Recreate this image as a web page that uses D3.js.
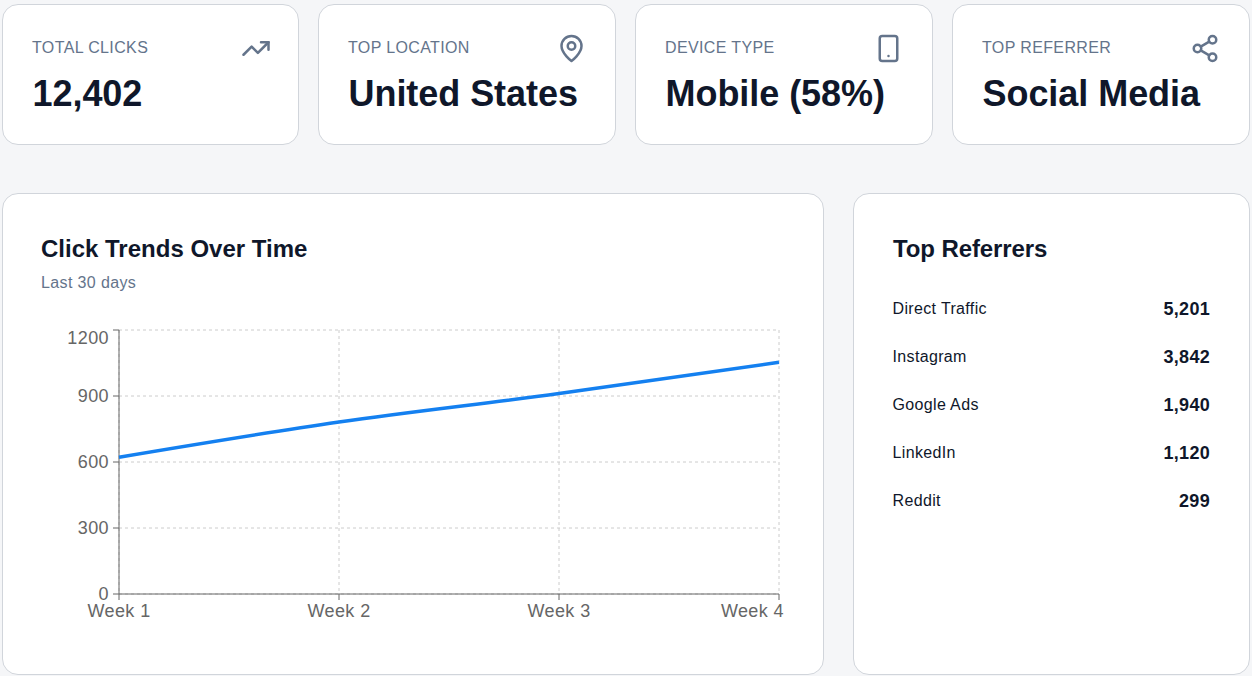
<!DOCTYPE html>
<html>
<head>
<meta charset="utf-8">
<script src="https://cdn.jsdelivr.net/npm/d3@7"></script>
<style>
  html, body { margin: 0; padding: 0; background: #f5f6f8; overflow: hidden; }
  body { width: 1252px; height: 676px; position: relative; font-family: "Liberation Sans", Arial, sans-serif; }
  .card { position: absolute; box-sizing: border-box; background: #fff; border: 1px solid #d1d5db; border-radius: 16px; }
  .txt { position: absolute; white-space: nowrap; line-height: 20px; }
  .label { font-size: 16px; color: #64748b; letter-spacing: 0.37px; }
  .value { font-size: 36px; line-height: 40px; font-weight: 700; color: #0f172a; letter-spacing: -0.05px; }
  .title { font-size: 24px; line-height: 28px; font-weight: 700; color: #0f172a; }
  .sub { font-size: 16px; color: #64748b; letter-spacing: 0.37px; }
  .ref { font-size: 16px; color: #0f172a; letter-spacing: 0.35px; }
  .count { font-size: 18px; font-weight: 700; color: #0f172a; text-align: right; letter-spacing: 0.3px; }
  svg { position: absolute; left: 0; top: 0; }
  .icon { fill: none; stroke: #64748b; stroke-width: 2; stroke-linecap: round; stroke-linejoin: round; }
</style>
</head>
<body>
<script>
// top cards
const cardLabels = ['TOTAL CLICKS', 'TOP LOCATION', 'DEVICE TYPE', 'TOP REFERRER'];
const cardValues = ['12,402', 'United States', 'Mobile (58%)', 'Social Media'];
const cardLeft = [2, 318, 635, 952];
const cardWidth = [297, 298, 298, 298];
const iconLeft = [241, 556.5, 873.5, 1190];

// chart
const weeks = ['Week 1', 'Week 2', 'Week 3', 'Week 4'];
const clicks = [622, 782, 911, 1053];
const yTicks = [0, 300, 600, 900, 1200];

// referrers list
const referrers = ['Direct Traffic', 'Instagram', 'Google Ads', 'LinkedIn', 'Reddit'];
const referrerClicks = ['5,201', '3,842', '1,940', '1,120', '299'];

const body = d3.select('body');

function addCard(x, y, w, h) {
    return body.append('div').attr('class', 'card')
        .style('left', x + 'px').style('top', y + 'px')
        .style('width', w + 'px').style('height', h + 'px');
}

function addText(cls, text, x, y) {
    return body.append('div').attr('class', 'txt ' + cls).text(text)
        .style('left', x + 'px').style('top', y + 'px');
}

cardLabels.forEach((label, i) => {
    addCard(cardLeft[i], 4, cardWidth[i], 141);
    addText('label', label, cardLeft[i] + 30, 38);
    addText('value', cardValues[i], cardLeft[i] + 30.5, 74);
});

addCard(2, 193, 822, 482);
addCard(853, 193, 397, 482);

addText('title', 'Click Trends Over Time', 41, 235);
addText('sub', 'Last 30 days', 41, 273);
addText('title', 'Top Referrers', 893, 235).style('letter-spacing', '-0.1px');

referrers.forEach((name, i) => {
    addText('ref', name, 892.5, 299 + i * 48);
    addText('count', referrerClicks[i], 1110, 299 + i * 48)
        .style('width', '100px');
});

const svg = body.append('svg').attr('width', 1252).attr('height', 676);

// icons, 24 unit viewbox drawn at 30px
const icons = [
    g => {
        g.append('polyline').attr('points', '22 7 13.5 15.5 8.5 10.5 2 17');
        g.append('polyline').attr('points', '16 7 22 7 22 13');
    },
    g => {
        g.append('path').attr('d', 'M20 10c0 6-8 12-8 12s-8-6-8-12a8 8 0 0 1 16 0Z');
        g.append('circle').attr('cx', 12).attr('cy', 10).attr('r', 3);
    },
    g => {
        g.append('rect').attr('x', 5).attr('y', 2).attr('width', 14).attr('height', 20).attr('rx', 2);
        g.append('path').attr('d', 'M12 18h.01');
    },
    g => {
        g.append('circle').attr('cx', 18).attr('cy', 5).attr('r', 3);
        g.append('circle').attr('cx', 6).attr('cy', 12).attr('r', 3);
        g.append('circle').attr('cx', 18).attr('cy', 19).attr('r', 3);
        g.append('line').attr('x1', 8.59).attr('y1', 13.51).attr('x2', 15.42).attr('y2', 17.49);
        g.append('line').attr('x1', 15.41).attr('y1', 6.51).attr('x2', 8.59).attr('y2', 10.49);
    }
];

icons.forEach((draw, i) => {
    const g = svg.append('g').attr('class', 'icon')
        .attr('transform', `translate(${iconLeft[i]},33.5) scale(1.25)`);
    draw(g);
});

// line chart
const x = d3.scalePoint().domain(weeks).range([119, 779]);
const y = d3.scaleLinear().domain([0, 1200]).range([594, 330]);

const grid = svg.append('g')
    .attr('fill', 'none')
    .attr('stroke', '#cccccc')
    .attr('stroke-dasharray', '3 3');

grid.selectAll('.h').data(yTicks).enter().append('line')
    .attr('x1', x.range()[0]).attr('x2', x.range()[1])
    .attr('y1', d => y(d)).attr('y2', d => y(d));

grid.selectAll('.v').data(weeks).enter().append('line')
    .attr('x1', d => x(d)).attr('x2', d => x(d))
    .attr('y1', y.range()[1]).attr('y2', y.range()[0]);

const yAxis = svg.append('g')
    .attr('transform', `translate(${x.range()[0]},0)`)
    .call(d3.axisLeft(y).offset(0).tickValues(yTicks).tickFormat(d3.format('d')).tickSize(6).tickSizeOuter(0));

const xAxis = svg.append('g')
    .attr('transform', `translate(0,${y.range()[0]})`)
    .call(d3.axisBottom(x).offset(0).tickSize(6).tickSizeOuter(0));

[xAxis, yAxis].forEach(axis => {
    axis.selectAll('.domain, line').attr('stroke', '#666666');
    axis.selectAll('text')
        .attr('fill', '#666666')
        .style('font-family', '"Liberation Sans", Arial, sans-serif')
        .style('font-size', '18px')
        .style('letter-spacing', '0.4px');
});

// the end labels are pulled inside the plot like in the original
yAxis.selectAll('text').attr('x', -10).attr('dy', '0.355em')
    .filter(d => d === 1200).attr('y', 8);
xAxis.selectAll('text').attr('y', 8).attr('dy', '0.85em')
    .filter(d => d === 'Week 4').attr('text-anchor', 'end').attr('x', 5);

const line = d3.line()
    .x((d, i) => x(weeks[i]))
    .y(d => y(d))
    .curve(d3.curveMonotoneX);

svg.append('path')
    .datum(clicks)
    .attr('fill', 'none')
    .attr('stroke', '#1480f0')
    .attr('stroke-width', 3.5)
    .attr('d', line);
</script>
</body>
</html>
